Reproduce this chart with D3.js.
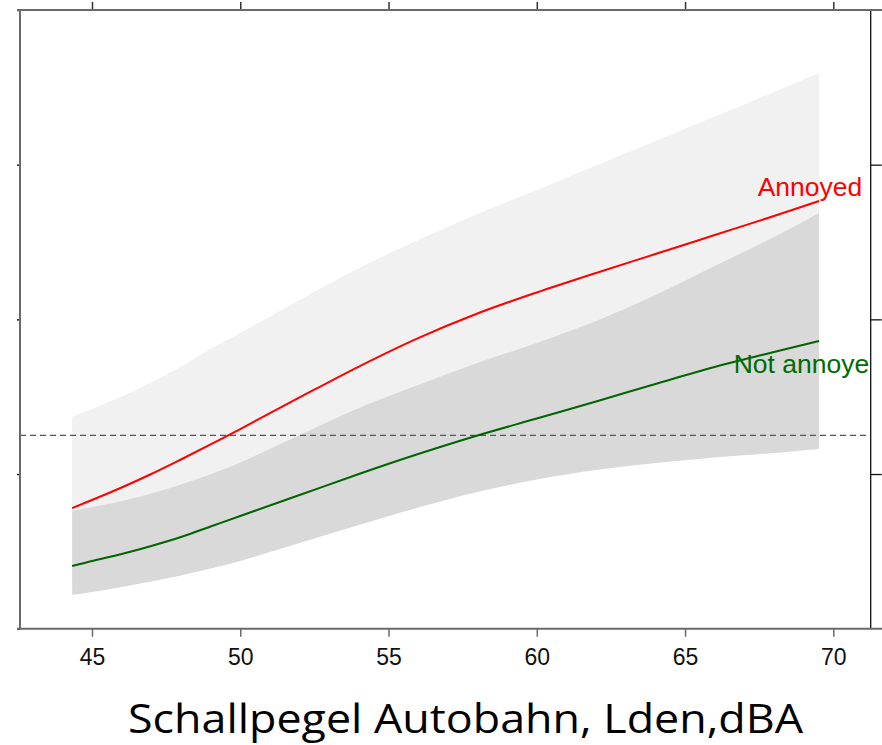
<!DOCTYPE html>
<html>
<head>
<meta charset="utf-8">
<script src="https://cdn.jsdelivr.net/npm/d3@7"></script>
<style>
  html, body { margin: 0; padding: 0; background: #fff; }
  svg { display: block; }
</style>
</head>
<body>
<svg id="chart" width="882" height="745"></svg>
<script>
// ---- data ----
const levels = [44.33, 45, 46, 47, 48, 49, 50, 52, 54, 56, 58, 60, 62, 64, 66, 68, 69.52];
const annoyed = [0.780, 0.832, 0.913, 1.000, 1.094, 1.191, 1.291, 1.495, 1.695, 1.879, 2.038, 2.174, 2.300, 2.422, 2.545, 2.668, 2.765];
const annoyedUpper = [1.369, 1.420, 1.501, 1.592, 1.695, 1.808, 1.912, 2.125, 2.332, 2.513, 2.681, 2.836, 2.995, 3.153, 3.311, 3.470, 3.593];
const annoyedLower = [0.309, 0.369, 0.455, 0.534, 0.621, 0.705, 0.807, 0.986, 1.191, 1.380, 1.542, 1.637, 1.747, 1.837, 1.918, 2.026, 2.103];
const notAnnoyed = [0.405, 0.438, 0.483, 0.535, 0.593, 0.661, 0.729, 0.864, 1.000, 1.129, 1.249, 1.359, 1.469, 1.582, 1.692, 1.789, 1.860];
const notAnnoyedUpper = [0.761, 0.787, 0.826, 0.874, 0.932, 0.999, 1.075, 1.252, 1.427, 1.576, 1.718, 1.847, 1.989, 2.157, 2.345, 2.532, 2.688];
const notAnnoyedLower = [0.218, 0.237, 0.270, 0.305, 0.344, 0.389, 0.438, 0.554, 0.670, 0.784, 0.884, 0.965, 1.026, 1.071, 1.107, 1.136, 1.162];
const xTicks = [45, 50, 55, 60, 65, 70];
const yTicks = [0, 1, 2, 3, 4];
const referenceLevel = 1.25;
const seriesLabels = [
  { text: "Annoyed", x: 67.45, y: 2.797, color: "#ff0000" },
  { text: "Not annoyed", x: 66.64, y: 1.651, color: "#006b00" }
];
const xTitle = "Schallpegel Autobahn, Lden,dBA";

// ---- layout ----
const svg = d3.select("#chart");
const pL = 20, pR = 870.7, pT = 10, pB = 628.7;
const x = d3.scaleLinear().domain([42.572, 71.261]).range([pL, pR]);
const y = d3.scaleLinear().domain([0, 4]).range([pB, pT]);

svg.append("defs").append("clipPath").attr("id", "plotclip")
  .append("rect").attr("x", pL).attr("y", pT)
  .attr("width", pR - pL).attr("height", pB - pT);

const plot = svg.append("g").attr("clip-path", "url(#plotclip)");

const rows = levels.map((lv, i) => ({
  lv, a: annoyed[i], aU: annoyedUpper[i], aL: annoyedLower[i],
  n: notAnnoyed[i], nU: notAnnoyedUpper[i], nL: notAnnoyedLower[i]
}));

const curve = d3.curveCatmullRom.alpha(0.5);
const areaA = d3.area().curve(curve).x(d => x(d.lv)).y0(d => y(d.aL)).y1(d => y(d.aU));
const areaN = d3.area().curve(curve).x(d => x(d.lv)).y0(d => y(d.nL)).y1(d => y(d.nU));
const lineA = d3.line().curve(curve).x(d => x(d.lv)).y(d => y(d.a));
const lineN = d3.line().curve(curve).x(d => x(d.lv)).y(d => y(d.n));

plot.append("path").datum(rows).attr("d", areaA).attr("fill", "#f1f1f1");
plot.append("path").datum(rows).attr("d", areaN).attr("fill", "#d9d9d9");

plot.append("line")
  .attr("x1", pL).attr("x2", pR)
  .attr("y1", y(referenceLevel)).attr("y2", y(referenceLevel))
  .attr("stroke", "#555").attr("stroke-width", 1.4).attr("stroke-dasharray", "6,4");

plot.append("path").datum(rows).attr("d", lineA)
  .attr("fill", "none").attr("stroke", "#ff0000").attr("stroke-width", 2);
plot.append("path").datum(rows).attr("d", lineN)
  .attr("fill", "none").attr("stroke", "#006400").attr("stroke-width", 2);

plot.selectAll("text.lbl").data(seriesLabels).enter().append("text")
  .attr("class", "lbl")
  .attr("x", d => x(d.x)).attr("y", d => y(d.y))
  .attr("fill", d => d.color)
  .attr("font-family", "Liberation Sans, Arial, sans-serif")
  .attr("font-size", 25)
  .attr("transform", d => `translate(${x(d.x)},${y(d.y)}) scale(1.06,1) translate(${-x(d.x)},${-y(d.y)})`)
  .text(d => d.text);

// ---- axes ----
const gray = "#6a6a6a";

const bottomAxis = svg.append("g").attr("transform", `translate(0,${pB})`)
  .call(d3.axisBottom(x).tickValues(xTicks).tickSize(8).tickPadding(12).tickFormat(d3.format("d")));
bottomAxis.select(".domain").remove();
bottomAxis.selectAll(".tick line").attr("stroke", gray).attr("stroke-width", 1.5);
bottomAxis.selectAll(".tick text").attr("font-family", "Liberation Sans, Arial, sans-serif")
  .attr("font-size", 23).attr("fill", "#111");

const topAxis = svg.append("g").attr("transform", `translate(0,${pT})`)
  .call(d3.axisTop(x).tickValues(xTicks).tickSize(8).tickFormat(""));
topAxis.select(".domain").remove();
topAxis.selectAll(".tick line").attr("stroke", "#333").attr("stroke-width", 1.5);

const leftAxis = svg.append("g").attr("transform", `translate(${pL},0)`)
  .call(d3.axisLeft(y).tickValues(yTicks).tickSize(3).tickFormat(""));
leftAxis.select(".domain").remove();
leftAxis.selectAll(".tick line").attr("stroke", "#222").attr("stroke-width", 1.5);

const rightAxis = svg.append("g").attr("transform", `translate(${pR},0)`)
  .call(d3.axisRight(y).tickValues(yTicks.slice(1, 4)).tickSize(11).tickFormat(""));
rightAxis.select(".domain").remove();
rightAxis.selectAll(".tick line").attr("stroke", "#111").attr("stroke-width", 1.3);

// frame lines
svg.append("line").attr("x1", pL).attr("x2", pL).attr("y1", pT).attr("y2", pB)
  .attr("stroke", gray).attr("stroke-width", 2);
svg.append("line").attr("x1", pR).attr("x2", pR).attr("y1", pT).attr("y2", pB)
  .attr("stroke", "#111").attr("stroke-width", 1.3);
svg.append("line").attr("x1", pL - 3).attr("x2", 882).attr("y1", pT).attr("y2", pT)
  .attr("stroke", gray).attr("stroke-width", 2);
svg.append("line").attr("x1", pL - 3).attr("x2", 882).attr("y1", pB).attr("y2", pB)
  .attr("stroke", gray).attr("stroke-width", 2);

// title
svg.append("text")
  .attr("x", 465.5).attr("y", 733)
  .attr("text-anchor", "middle")
  .attr("font-family", "'Open Sans', Lato, sans-serif")
  .attr("font-size", 41)
  .attr("textLength", 675)
  .attr("lengthAdjust", "spacingAndGlyphs")
  .attr("fill", "#000")
  .text(xTitle);
</script>
</body>
</html>
